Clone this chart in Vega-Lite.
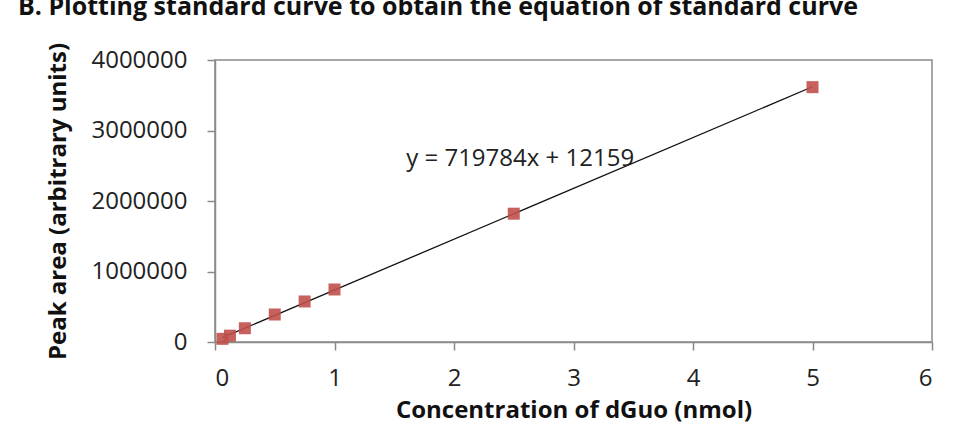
{
  "$schema": "https://vega.github.io/schema/vega-lite/v6.json",
  "autosize": {"type": "none"},
  "width": 717,
  "height": 282,
  "padding": {"left": 215, "top": 60, "right": 22, "bottom": 84},
  "background": "white",
  "title": {
    "text": "B. Plotting standard curve to obtain the equation of standard curve",
    "anchor": "start",
    "frame": "group",
    "dx": -197,
    "offset": 22,
    "font": "Open Sans",
    "fontSize": 25,
    "fontWeight": "bold",
    "color": "#111"
  },
  "datasets": {
    "points": [
      {"conc": 0.0625, "area": 45000},
      {"conc": 0.125, "area": 90000},
      {"conc": 0.25, "area": 195000},
      {"conc": 0.5, "area": 390000},
      {"conc": 0.75, "area": 575000},
      {"conc": 1.0, "area": 745000},
      {"conc": 2.5, "area": 1820000},
      {"conc": 5.0, "area": 3615000}
    ],
    "label": [
      {"conc": 1.6, "area": 2600000, "text": "y = 719784x + 12159"}
    ]
  },
  "config": {
    "view": {"stroke": "#8a8a8a", "strokeWidth": 1.5},
    "axis": {
      "grid": false,
      "domainColor": "#8a8a8a",
      "domainWidth": 1.5,
      "tickColor": "#8a8a8a",
      "tickWidth": 1.5,
      "tickSize": 8,
      "labelFont": "Open Sans",
      "labelFontSize": 24,
      "labelColor": "#222",
      "titleFont": "Open Sans",
      "titleFontSize": 24,
      "titleFontWeight": "bold",
      "titleColor": "#111"
    }
  },
  "layer": [
    {
      "data": {"name": "points"},
      "transform": [{"regression": "area", "on": "conc"}],
      "mark": {"type": "line", "color": "#111", "strokeWidth": 1.3},
      "encoding": {
        "x": {"field": "conc", "type": "quantitative"},
        "y": {"field": "area", "type": "quantitative"}
      }
    },
    {
      "data": {"name": "points"},
      "mark": {"type": "square", "size": 144, "color": "#c0504d", "opacity": 0.9, "filled": true},
      "encoding": {
        "x": {
          "field": "conc",
          "type": "quantitative",
          "scale": {"domain": [0, 6], "nice": false},
          "axis": {"values": [0, 1, 2, 3, 4, 5, 6], "format": "d", "title": "Concentration of dGuo (nmol)", "labelPadding": 16, "titlePadding": 8}
        },
        "y": {
          "field": "area",
          "type": "quantitative",
          "scale": {"domain": [0, 4000000], "nice": false},
          "axis": {"values": [0, 1000000, 2000000, 3000000, 4000000], "format": "d", "title": "Peak area (arbitrary units)", "labelPadding": 20, "titlePadding": 20}
        }
      }
    },
    {
      "data": {"name": "label"},
      "mark": {"type": "text", "align": "left", "baseline": "middle", "font": "Open Sans", "fontSize": 24, "color": "#222"},
      "encoding": {
        "x": {"field": "conc", "type": "quantitative"},
        "y": {"field": "area", "type": "quantitative"},
        "text": {"field": "text"}
      }
    }
  ]
}
